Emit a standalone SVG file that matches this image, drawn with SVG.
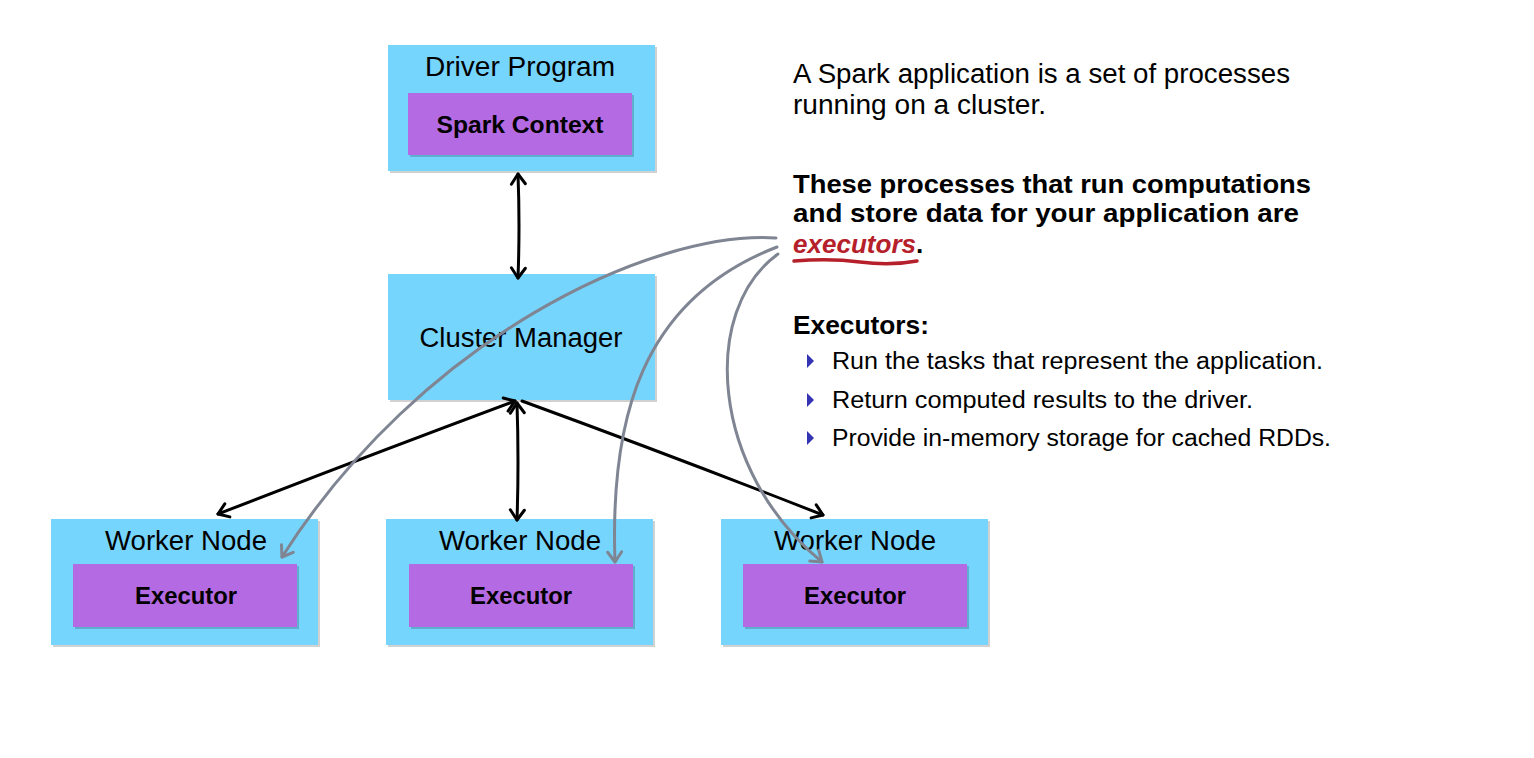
<svg xmlns="http://www.w3.org/2000/svg" width="1534" height="758" viewBox="0 0 1534 758">
<defs>
<style>
.outer{fill:#76D5FD}
.inner{fill:#B46AE2}
.sh{fill:#000;opacity:0.18}
.t{font-family:"Liberation Sans",Arial,sans-serif;fill:#000}
.title{font-size:27px;text-anchor:middle}
.lbl{font-size:24px;font-weight:bold;text-anchor:middle}
.body{font-size:27px}
.bold{font-size:26px;font-weight:bold}
.bul{font-size:23.5px}
.blk{fill:none;stroke:#000;stroke-width:3;stroke-linecap:round}
.gry{fill:none;stroke:#7F8592;stroke-width:3;stroke-linecap:round}
</style>
<marker id="ah" viewBox="0 0 20 20" refX="14" refY="10" markerWidth="20" markerHeight="20" markerUnits="userSpaceOnUse" orient="auto-start-reverse">
<path d="M4,3 L14,10 L4,17" fill="none" stroke="#000" stroke-width="3" stroke-linecap="round" stroke-linejoin="round"/>
</marker>
<marker id="ag" viewBox="0 0 20 20" refX="14" refY="10" markerWidth="20" markerHeight="20" markerUnits="userSpaceOnUse" orient="auto">
<path d="M4,3 L14,10 L4,17" fill="none" stroke="#7F8592" stroke-width="3" stroke-linecap="round" stroke-linejoin="round"/>
</marker>
</defs>
<rect width="1534" height="758" fill="#fff"/>

<g id="driver">
<rect class="sh" x="390" y="47" width="267" height="126"/>
<rect class="outer" x="388" y="45" width="267" height="126"/>
<text class="t title" x="520" y="76" textLength="190" lengthAdjust="spacingAndGlyphs">Driver Program</text>
<g id="sparkcontext">
<rect class="sh" x="410" y="95" width="224" height="62"/>
<rect class="inner" x="408" y="93" width="224" height="62"/>
<text class="t lbl" x="520" y="133" textLength="167" lengthAdjust="spacingAndGlyphs">Spark Context</text>
</g>
</g>

<g id="cluster">
<rect class="sh" x="390" y="276" width="267" height="126"/>
<rect class="outer" x="388" y="274" width="267" height="126"/>
<text class="t title" x="521" y="347" textLength="203" lengthAdjust="spacingAndGlyphs">Cluster Manager</text>
</g>

<g id="worker1">
<rect class="sh" x="53" y="521" width="267" height="126"/>
<rect class="outer" x="51" y="519" width="267" height="126"/>
<text class="t title" x="186" y="550" textLength="162" lengthAdjust="spacingAndGlyphs">Worker Node</text>
<g id="executor1">
<rect class="sh" x="75" y="566" width="224" height="63"/>
<rect class="inner" x="73" y="564" width="224" height="63"/>
<text class="t lbl" x="186" y="604" textLength="102" lengthAdjust="spacingAndGlyphs">Executor</text>
</g>
</g>

<g id="worker2">
<rect class="sh" x="388" y="521" width="267" height="126"/>
<rect class="outer" x="386" y="519" width="267" height="126"/>
<text class="t title" x="520" y="550" textLength="162" lengthAdjust="spacingAndGlyphs">Worker Node</text>
<g id="executor2">
<rect class="sh" x="411" y="566" width="224" height="63"/>
<rect class="inner" x="409" y="564" width="224" height="63"/>
<text class="t lbl" x="521" y="604" textLength="102" lengthAdjust="spacingAndGlyphs">Executor</text>
</g>
</g>

<g id="worker3">
<rect class="sh" x="723" y="521" width="267" height="126"/>
<rect class="outer" x="721" y="519" width="267" height="126"/>
<text class="t title" x="855" y="550" textLength="162" lengthAdjust="spacingAndGlyphs">Worker Node</text>
<g id="executor3">
<rect class="sh" x="745" y="566" width="224" height="63"/>
<rect class="inner" x="743" y="564" width="224" height="63"/>
<text class="t lbl" x="855" y="604" textLength="102" lengthAdjust="spacingAndGlyphs">Executor</text>
</g>
</g>

<g id="connectors">
<path class="blk" d="M518,174 Q520,226 518,278" marker-start="url(#ah)" marker-end="url(#ah)"/>
<path class="blk" d="M517,403 Q519,462 517,520" marker-start="url(#ah)" marker-end="url(#ah)"/>
<path class="blk" d="M515,401 Q370,455 218,514" marker-start="url(#ah)" marker-end="url(#ah)"/>
<path class="blk" d="M522,401 Q670,455 823,515" marker-end="url(#ah)"/>
<path class="gry" d="M776,238 C650,230 420,340 282,557" marker-end="url(#ag)"/>
<path class="gry" d="M777,247 C640,300 610,420 615,562" marker-end="url(#ag)"/>
<path class="gry" d="M778,254 C700,310 710,470 822,562" marker-end="url(#ag)"/>
</g>

<g id="text">
<text class="t body" x="793" y="83" textLength="497" lengthAdjust="spacingAndGlyphs">A Spark application is a set of processes</text>
<text class="t body" x="793" y="114" textLength="253" lengthAdjust="spacingAndGlyphs">running on a cluster.</text>
<text class="t bold" x="793" y="193" textLength="518" lengthAdjust="spacingAndGlyphs">These processes that run computations</text>
<text class="t bold" x="793" y="222" textLength="506" lengthAdjust="spacingAndGlyphs">and store data for your application are</text>
<text class="t bold" x="793" y="253"><tspan fill="#B5202A" font-style="italic" textLength="123" lengthAdjust="spacingAndGlyphs">executors</tspan>.</text>
<path d="M794,261 Q830,258 860,262 T917,261" fill="none" stroke="#B5202A" stroke-width="3.5" stroke-linecap="round"/>
<text class="t bold" x="793" y="334" textLength="136" lengthAdjust="spacingAndGlyphs">Executors:</text>
<polygon points="807,354 814,361 807,368" fill="#3333B3"/>
<text class="t bul" x="832" y="369" textLength="491" lengthAdjust="spacingAndGlyphs">Run the tasks that represent the application.</text>
<polygon points="807,393 814,400 807,407" fill="#3333B3"/>
<text class="t bul" x="832" y="408" textLength="421" lengthAdjust="spacingAndGlyphs">Return computed results to the driver.</text>
<polygon points="807,431 814,438 807,445" fill="#3333B3"/>
<text class="t bul" x="832" y="446" textLength="499" lengthAdjust="spacingAndGlyphs">Provide in-memory storage for cached RDDs.</text>
</g>
</svg>
